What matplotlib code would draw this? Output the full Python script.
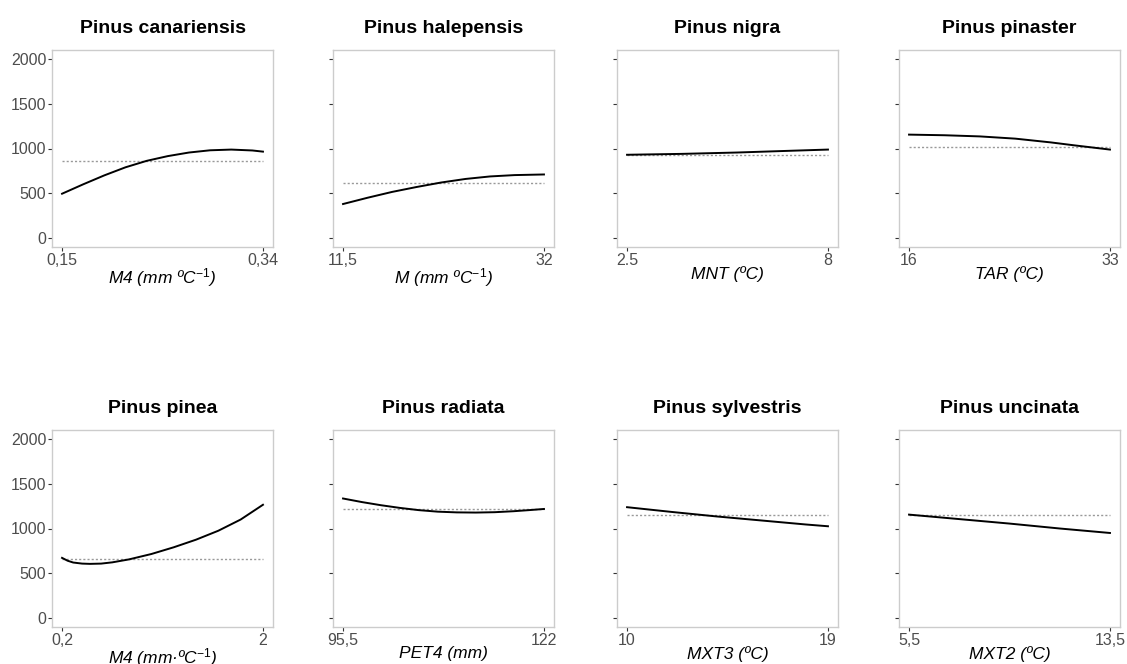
import matplotlib
matplotlib.use("Agg")
import matplotlib.pyplot as plt

plt.rcParams['font.family'] = ['Liberation Sans', 'DejaVu Sans']
plt.rcParams['mathtext.fontset'] = 'custom'
plt.rcParams['mathtext.rm'] = 'Liberation Sans'
plt.rcParams['mathtext.it'] = 'Liberation Sans:italic'

# species titles and x-axis labels
species = ["Pinus canariensis", "Pinus halepensis", "Pinus nigra", "Pinus pinaster",
           "Pinus pinea", "Pinus radiata", "Pinus sylvestris", "Pinus uncinata"]
xlabels = [r"M4 (mm ºC$^{-1}$)", r"M (mm ºC$^{-1}$)", "MNT (ºC)", "TAR (ºC)",
           r"M4 (mm·ºC$^{-1}$)", "PET4 (mm)", "MXT3 (ºC)", "MXT2 (ºC)"]

# x tick values (min, max) and their printed labels
xticks = [(0.15, 0.34), (11.5, 32), (2.5, 8), (16, 33),
          (0.2, 2), (95.5, 122), (10, 19), (5.5, 13.5)]
xticklabels = [("0,15", "0,34"), ("11,5", "32"), ("2.5", "8"), ("16", "33"),
               ("0,2", "2"), ("95,5", "122"), ("10", "19"), ("5,5", "13,5")]

# response curves
canariensis_x = [0.15, 0.17, 0.19, 0.21, 0.23, 0.25, 0.27, 0.29, 0.31, 0.33, 0.34]
canariensis_y = [495, 600, 700, 790, 862, 915, 955, 980, 988, 978, 965]
halepensis_x = [11.5, 14, 16.5, 19, 21.5, 24, 26.5, 29, 32]
halepensis_y = [380, 450, 515, 570, 620, 660, 688, 703, 710]
nigra_x = [2.5, 4, 5.5, 7, 8]
nigra_y = [930, 940, 955, 975, 988]
pinaster_x = [16, 19, 22, 25, 28, 30, 33]
pinaster_y = [1155, 1148, 1135, 1110, 1068, 1035, 988]
pinea_x = [0.2, 0.25, 0.3, 0.38, 0.45, 0.55, 0.65, 0.8, 1.0, 1.2, 1.4, 1.6, 1.8, 2.0]
pinea_y = [672, 640, 620, 608, 605, 608, 622, 655, 715, 790, 875, 975, 1100, 1265]
radiata_x = [95.5, 98, 100.5, 103, 105.5, 108, 110.5, 113, 115.5, 118, 120, 122]
radiata_y = [1335, 1295, 1260, 1230, 1205, 1188, 1180, 1178, 1182, 1193, 1205, 1218]
sylvestris_x = [10, 12, 14, 16, 18, 19]
sylvestris_y = [1238, 1185, 1135, 1090, 1045, 1025]
uncinata_x = [5.5, 7.5, 9.5, 11.5, 13.5]
uncinata_y = [1155, 1105, 1055, 1000, 950]

# reference (dotted) levels
ref_levels = [863, 612, 923, 1017, 657, 1216, 1156, 1156]

curves = [(canariensis_x, canariensis_y), (halepensis_x, halepensis_y),
          (nigra_x, nigra_y), (pinaster_x, pinaster_y),
          (pinea_x, pinea_y), (radiata_x, radiata_y),
          (sylvestris_x, sylvestris_y), (uncinata_x, uncinata_y)]

yticks = [0, 500, 1000, 1500, 2000]

W, H = 1127, 664
fig = plt.figure(figsize=(W / 100, H / 100), dpi=100)

lefts = [52, 333, 617, 899]
tops = [50, 430]
pw, ph = 221, 197

for i in range(8):
    row, col = divmod(i, 4)
    ax = fig.add_axes([lefts[col] / W, 1 - (tops[row] + ph) / H, pw / W, ph / H])
    x, y = curves[i]
    x0, x1 = xticks[i]
    ax.hlines(ref_levels[i], x0, x1, colors="#999999", linestyles=(0, (1.5, 1.5)),
              linewidth=1.0)
    ax.plot(x, y, color="black", linewidth=1.4, solid_joinstyle="round")

    pad = (x1 - x0) * 0.05
    ax.set_xlim(x0 - pad, x1 + pad)
    ax.set_ylim(-100, 2100)
    ax.set_xticks([x0, x1])
    ax.set_xticklabels(xticklabels[i])
    ax.set_yticks(yticks)
    if col == 0:
        ax.set_yticklabels([str(v) for v in yticks])
    else:
        ax.set_yticklabels([])

    ax.tick_params(axis="both", labelsize=11.5, labelcolor="#4d4d4d", color="#333333",
                   length=3, width=0.8, pad=1)
    for s in ax.spines.values():
        s.set_color("#cccccc")
        s.set_linewidth(1.0)

    ax.set_title(species[i], fontsize=14, fontweight="bold", pad=12)
    ax.set_xlabel(xlabels[i], fontsize=12.5, style="italic", labelpad=-1)

fig.savefig("out.png", dpi=100)
